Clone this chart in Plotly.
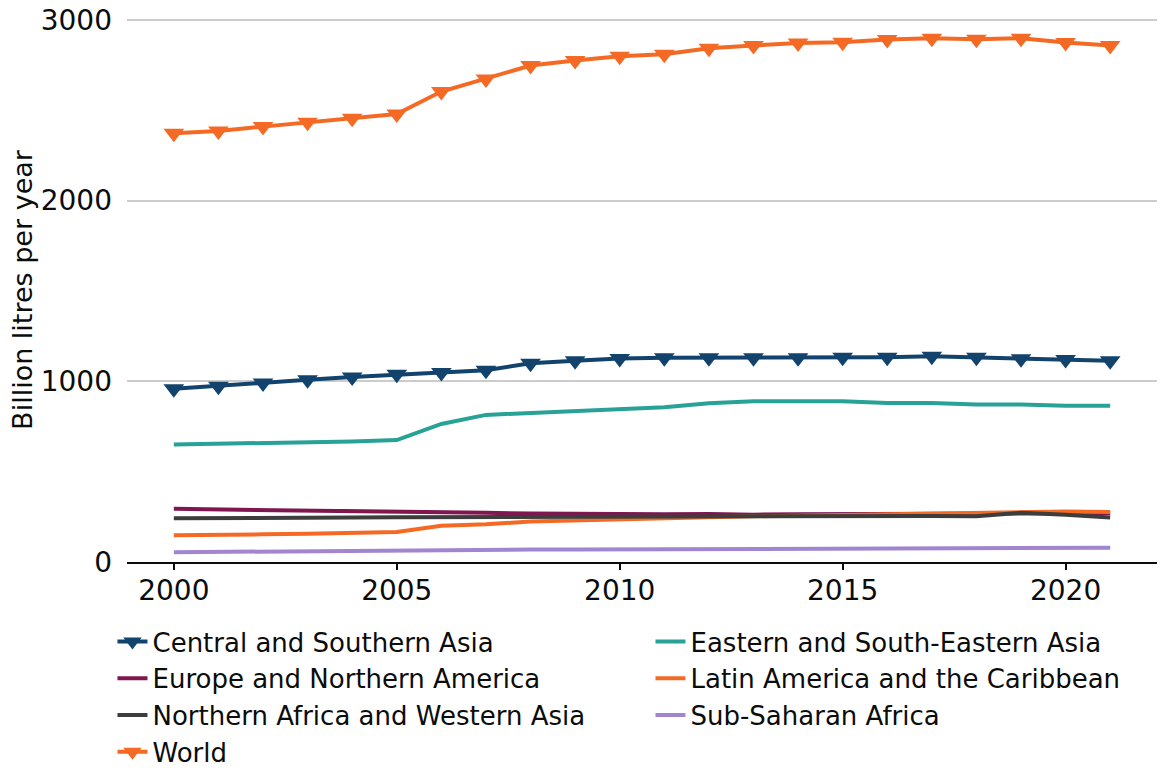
import plotly.graph_objects as go

years = list(range(2000, 2022))

central_southern_asia = [958, 973, 991, 1008, 1024, 1039, 1049, 1061, 1100, 1113, 1126, 1130,
                         1130, 1130, 1130, 1133, 1133, 1138, 1133, 1124, 1121, 1113]
eastern_se_asia = [650, 653, 658, 662, 667, 675, 764, 814, 825, 837, 843, 856,
                   878, 889, 889, 889, 880, 880, 872, 872, 865, 865]
europe_n_america = [294, 291, 288, 287, 285, 283, 277, 272, 268, 266, 264, 264,
                    266, 262, 264, 264, 265, 266, 267, 268, 270, 270]
latin_america = [148, 148, 153, 157, 162, 166, 200, 209, 224, 231, 238, 242,
                 248, 253, 257, 261, 264, 268, 272, 275, 279, 277]
n_africa_w_asia = [242, 242, 243, 244, 246, 248, 249, 250, 250, 250, 250, 250,
                   251, 252, 252, 253, 255, 255, 253, 272, 261, 246]
sub_saharan_africa = [54, 56, 61, 63, 64, 66, 67, 68, 69, 69, 70, 71,
                      72, 72, 73, 74, 75, 76, 77, 78, 79, 79]
world = [2372, 2385, 2409, 2433, 2455, 2479, 2603, 2673, 2747, 2775, 2798, 2810,
         2843, 2858, 2871, 2876, 2891, 2898, 2893, 2898, 2874, 2858]

y_ticks = [0, 1000, 2000, 3000]
x_ticks = [2000, 2005, 2010, 2015, 2020]

series = [
    ("Central and Southern Asia", central_southern_asia, "#12436D", True),
    ("Eastern and South-Eastern Asia", eastern_se_asia, "#28A197", False),
    ("Europe and Northern America", europe_n_america, "#801650", False),
    ("Latin America and the Caribbean", latin_america, "#F46A25", False),
    ("Northern Africa and Western Asia", n_africa_w_asia, "#3D3D3D", False),
    ("Sub-Saharan Africa", sub_saharan_africa, "#A285D1", False),
    ("World", world, "#F46A25", True),
]

FONT = "DejaVu Sans"

fig = go.Figure()
for name, vals, color, markers in series:
    fig.add_trace(go.Scatter(
        x=years, y=vals, name=name,
        mode="lines+markers" if markers else "lines",
        line=dict(color=color, width=4),
        marker=dict(symbol="triangle-down", size=18, color=color),
    ))

fig.update_layout(
    width=1173, height=769,
    margin=dict(l=127, r=16, t=18, b=207, autoexpand=False),
    paper_bgcolor="white", plot_bgcolor="white",
    font=dict(family=FONT, size=28, color="#0b0c0c"),
    showlegend=True,
    legend=dict(
        orientation="h", x=-0.0141, xanchor="left", y=-0.1029, yanchor="top",
        entrywidth=493, entrywidthmode="pixels",
        font=dict(family=FONT, size=26, color="#0b0c0c"),
        bgcolor="rgba(0,0,0,0)", traceorder="normal",
    ),
    xaxis=dict(
        range=[1998.95, 2022.05], tickvals=x_ticks, ticktext=[str(v) for v in x_ticks],
        showline=True, linecolor="#0b0c0c", linewidth=2,
        ticks="outside", ticklen=6, tickwidth=2, tickcolor="#0b0c0c",
        showgrid=False, zeroline=False, ticklabelstandoff=-4,
        tickfont=dict(family=FONT, size=28),
    ),
    yaxis=dict(
        range=[0, 3010], tickvals=y_ticks, ticktext=[str(v) for v in y_ticks],
        showline=False, showgrid=True, gridcolor="#cccccc", gridwidth=2,
        zeroline=False, ticks="", ticklabelstandoff=14,
        tickfont=dict(family=FONT, size=28),
        title=dict(text="Billion litres per year", font=dict(family=FONT, size=27), standoff=0),
    ),
)

fig.write_html("out.html", config={"displayModeBar": False},
               post_script="document.body.style.margin='0px';")
